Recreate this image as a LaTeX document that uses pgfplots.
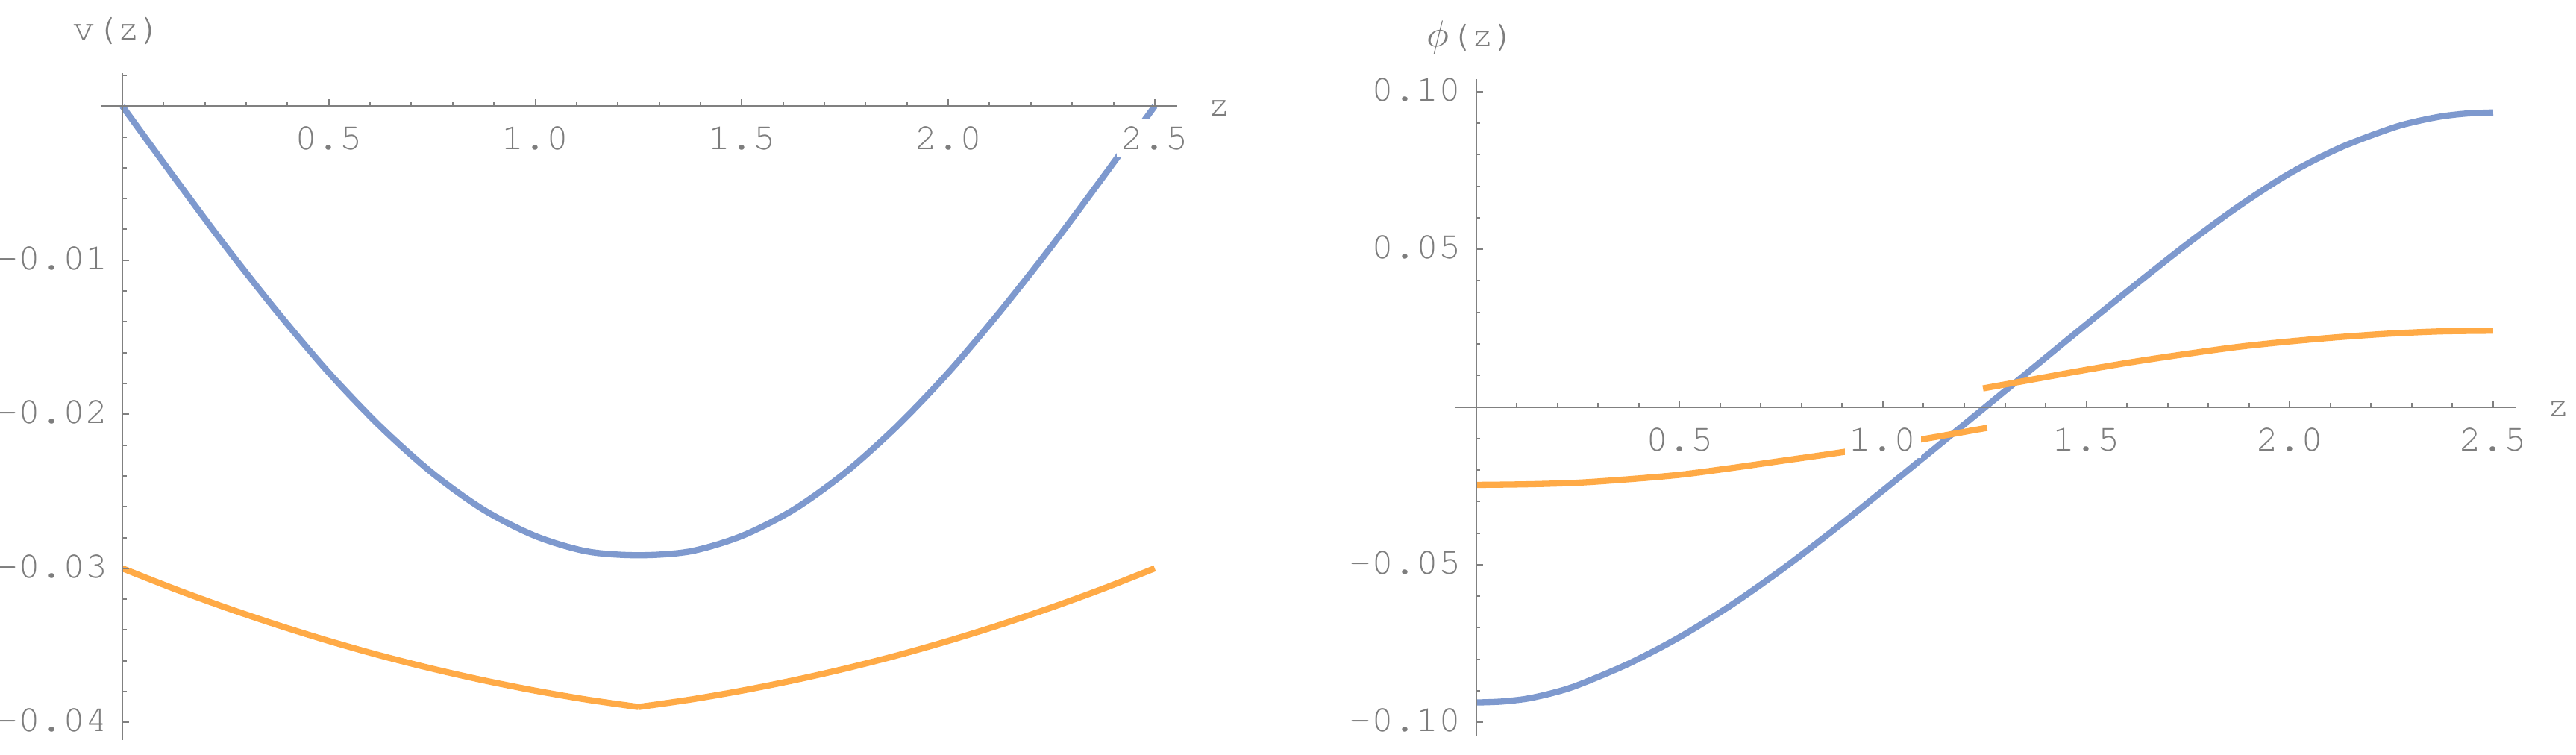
\documentclass[border=0pt]{standalone}
\usepackage{pgfplots}
\pgfplotsset{compat=1.18}
\usepackage{fontspec}
\newfontfamily\mono{texgyrecursor-regular.otf}
\definecolor{axgray}{RGB}{128,128,128}
\definecolor{labgray}{RGB}{125,125,125}
\definecolor{mblue}{RGB}{126,153,206}
\definecolor{morange}{RGB}{255,170,70}
\newcommand\lab{\mono\fontsize{10}{12}\selectfont\color{labgray}}

\pgfplotsset{
  mma/.style={
    scale only axis,
    axis lines=middle,
    axis line style={-, draw=axgray, line width=0.4pt},
    axis on top,
    scaled x ticks=false, scaled y ticks=false,
    tick align=inside,
    major tick length=1.8pt, minor tick length=1.1pt,
    tick style={axgray, line width=0.4pt},
    xtick={0.5,1,1.5,2,2.5},
    xticklabels={0.5,1.0,1.5,2.0,2.5},
    minor xtick={0.1,0.2,0.3,0.4,0.6,0.7,0.8,0.9,1.1,1.2,1.3,1.4,1.6,1.7,1.8,1.9,2.1,2.2,2.3,2.4},
    ticklabel style={font=\lab, fill=white, text height=6.4pt, text depth=0pt,
      inner xsep=1.2pt, inner ysep=2pt},
    xticklabel style={anchor=center, yshift=-8.5pt},
    yticklabel style={anchor=east, xshift=-2.6pt, yshift=0.7pt},
    clip=false,
  },
  curve/.style={line width=1.66pt, smooth},
}

\begin{document}
\begin{tikzpicture}
% left panel: v(z)
\begin{axis}[mma,
  at={(27pt,3.94pt)}, anchor=south west,
  width=288.66pt, height=178.8pt,
  xmin=-0.0524, xmax=2.555, ymin=-0.04116, ymax=0.00213,
  ytick={-0.04,-0.03,-0.02,-0.01},
  yticklabels={-0.04,-0.03,-0.02,-0.01},
  minor ytick={0.002,-0.002,-0.004,-0.006,-0.008,-0.012,-0.014,-0.016,-0.018,-0.022,-0.024,-0.026,-0.028,-0.032,-0.034,-0.036,-0.038},
]
\addplot[curve, mblue] coordinates {
  (0,0) (0.125,-0.0046) (0.25,-0.0091) (0.375,-0.01335) (0.5,-0.0173)
  (0.625,-0.0208) (0.75,-0.0238) (0.875,-0.0262) (1.0,-0.0279) (1.125,-0.0289)
  (1.25,-0.02915) (1.375,-0.0289) (1.5,-0.0279) (1.625,-0.0262) (1.75,-0.0238)
  (1.875,-0.0208) (2.0,-0.0173) (2.125,-0.01335) (2.25,-0.0091) (2.375,-0.0046)
  (2.5,0)
};
\addplot[curve, morange] coordinates {
  (0,-0.0300) (0.125,-0.03132) (0.25,-0.03254) (0.375,-0.03367) (0.5,-0.03471)
  (0.625,-0.03566) (0.75,-0.03651) (0.875,-0.03727) (1.0,-0.03794) (1.125,-0.03852)
  (1.25,-0.0390)
};
\addplot[curve, morange] coordinates {
  (1.25,-0.0390) (1.375,-0.03852) (1.5,-0.03794) (1.625,-0.03727) (1.75,-0.03651)
  (1.875,-0.03566) (2.0,-0.03471) (2.125,-0.03367) (2.25,-0.03254) (2.375,-0.03132)
  (2.5,-0.0300)
};
\node[anchor=base, inner sep=0pt, font=\lab] at ([xshift=-1.4pt, yshift=8.9pt]axis cs:0,0.00213) {v(z)};
\node[anchor=base west, inner sep=0pt, font=\lab] at ([xshift=8pt, yshift=-2.6pt]axis cs:2.555,0) {z};
\end{axis}

% right panel: phi(z)
\begin{axis}[mma,
  at={(390pt,4.94pt)}, anchor=south west,
  width=284.6pt, height=176.26pt,
  xmin=-0.0523, xmax=2.557, ymin=-0.1045, ymax=0.1040,
  ytick={-0.1,-0.05,0.05,0.1},
  yticklabels={-0.10,-0.05,0.05,0.10},
  minor ytick={-0.09,-0.08,-0.07,-0.06,-0.04,-0.03,-0.02,-0.01,0.01,0.02,0.03,0.04,0.06,0.07,0.08,0.09},
]
\addplot[curve, mblue] coordinates {
  (0,-0.0937) (0.0625,-0.0934) (0.125,-0.0925) (0.1875,-0.0907) (0.25,-0.0882)
  (0.375,-0.0814) (0.5,-0.0730)
  (0.625,-0.0630) (0.75,-0.0517) (0.875,-0.0394) (1.0,-0.0265) (1.125,-0.0134)
  (1.25,-0.0002) (1.375,0.0130) (1.5,0.0262) (1.625,0.0392) (1.75,0.0519)
  (1.875,0.0637) (2.0,0.0741) (2.125,0.0823) (2.25,0.0884) (2.3125,0.0906)
  (2.375,0.0922) (2.4375,0.0931) (2.5,0.0934)
};
\addplot[curve, morange] coordinates {
  (0,-0.0247) (0.125,-0.0245) (0.25,-0.0240) (0.375,-0.0229) (0.5,-0.0215)
  (0.625,-0.0194) (0.75,-0.0171) (0.875,-0.0148) (1.0,-0.0123) (1.125,-0.0096)
  (1.256,-0.0066)
};
\addplot[curve, morange] coordinates {
  (1.246,0.0059) (1.375,0.0089) (1.5,0.0118) (1.625,0.0145) (1.75,0.0169)
  (1.875,0.0191) (2.0,0.0208) (2.125,0.0222) (2.25,0.0233) (2.375,0.0240)
  (2.5,0.0242)
};
\node[anchor=base, inner sep=0pt, font=\lab] at ([xshift=-1.2pt, yshift=8.6pt]axis cs:0,0.1040) {$\phi$(z)};
\node[anchor=base west, inner sep=0pt, font=\lab] at ([xshift=8pt, yshift=-2.6pt]axis cs:2.557,0) {z};
\end{axis}
\pgfresetboundingbox
\path (0,0) rectangle (690.6pt,202.4pt);
\end{tikzpicture}
\end{document}
